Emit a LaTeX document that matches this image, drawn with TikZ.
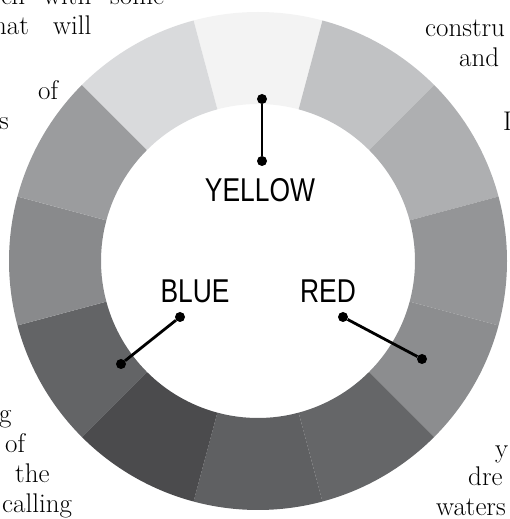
\documentclass[tikz,border=0pt]{standalone}
\usepackage{fontspec}
\newfontfamily\labelfont[FakeStretch=0.8]{Liberation Sans}
\usepackage{tikz}
\usetikzlibrary{positioning}

% segment greys, clockwise from the top
\definecolor{segY}{HTML}{F3F3F3}
\definecolor{segYO}{HTML}{C1C2C4}
\definecolor{segO}{HTML}{AEAFB1}
\definecolor{segRO}{HTML}{949597}
\definecolor{segR}{HTML}{8C8D8F}
\definecolor{segRV}{HTML}{656668}
\definecolor{segV}{HTML}{5F6062}
\definecolor{segBV}{HTML}{4B4B4D}
\definecolor{segB}{HTML}{636466}
\definecolor{segBG}{HTML}{898A8C}
\definecolor{segG}{HTML}{9B9C9E}
\definecolor{segYG}{HTML}{D9DADC}

\begin{document}
\begin{tikzpicture}[
  x=1pt, y=1pt,
  txt/.style={anchor=base west, inner sep=0pt, font=\fontsize{27}{27}\selectfont},
  lbl/.style={inner sep=0pt, font=\labelfont\fontsize{33}{33}\selectfont},
  dot/.style={circle, fill=black, inner sep=0pt, minimum size=10pt},
  lead/.style={line width=2.8pt, black}
]
\useasboundingbox (0,0) rectangle (510,519);
\clip (0,0) rectangle (510,519);

% ---------- page text around the wheel ----------
\foreach \w/\x/\y [count=\i] in {ch/1/514, with/43/514, some/110/514,
    hat/-7/484, will/53/484, of/38/419, s/-1/389,
    constru/425/482, and/459/452, I/503/388,
    g/-1/96, of/5/66, the/15/36, calling/2/6,
    y/495/61, dre/468/33, waters/436/4}
  \node[txt] (w\i) at (\x,\y) {\w};

% ---------- colour wheel ----------
\begin{scope}[shift={(258,258)}]
\foreach \a/\col in {90/segY, 60/segYO, 30/segO, 0/segRO, -30/segR, -60/segRV,
    -90/segV, -120/segBV, -150/segB, 180/segBG, 150/segG, 120/segYG}
  \fill[\col] (\a-15:157pt) -- (\a-15:249pt)
    arc[start angle=\a-15, end angle=\a+15, radius=249pt]
    -- (\a+15:157pt)
    arc[start angle=\a+15, end angle=\a-15, radius=157pt] -- cycle;
\end{scope}

% ---------- primaries ----------
\node[lbl] (yellow) at (260,329) {YELLOW};
\node[lbl] (blue)   at (195,228) {BLUE};
\node[lbl] (red)    at (328,228) {RED};

\node[dot] (ytop) at (262,420) {};
\node[dot] (ylow) at (262,358) {};
\node[dot] (bin)  at (180,202) {};
\node[dot] (bout) at (121,155) {};
\node[dot] (rin)  at (343,202) {};
\node[dot] (rout) at (422,160) {};

\draw[lead] (ylow) -- (ytop);
\draw[lead] (bin) -- (bout);
\draw[lead] (rin) -- (rout);

\end{tikzpicture}
\end{document}
